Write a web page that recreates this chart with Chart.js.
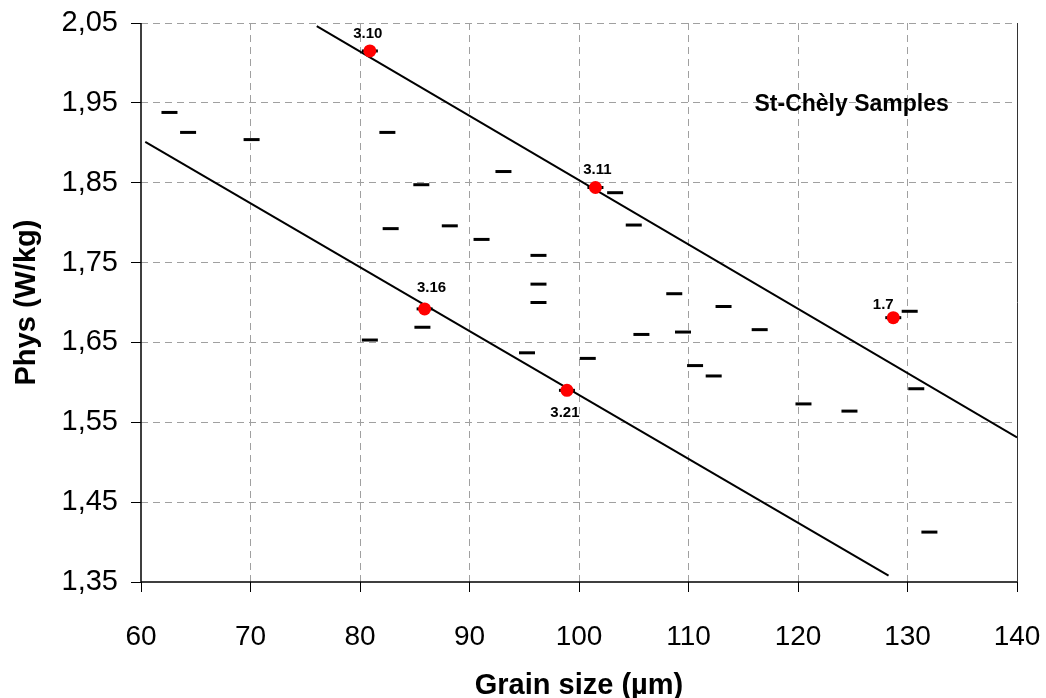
<!DOCTYPE html>
<html>
<head>
<meta charset="utf-8">
<script src="https://cdn.jsdelivr.net/npm/chart.js@4/dist/chart.umd.min.js"></script>
<style>
  html, body { margin: 0; padding: 0; background: #fff; }
  #wrap { width: 1046px; height: 698px; }
</style>
</head>
<body>
<div id="wrap"><canvas id="chart" width="1046" height="698"></canvas></div>
<script>
// all samples (short black dashes)
const grainSize = [62.6, 64.3, 70.1, 80.9, 82.5, 85.6, 88.2, 82.8, 93.1, 91.1, 96.3, 96.3, 96.3, 101.5, 103.3, 105.0, 85.9, 85.7,
  108.7, 113.2, 105.7, 109.5, 80.9, 95.25, 100.8, 98.9, 116.5, 128.7, 130.2, 112.3, 110.6, 120.5, 124.7, 130.8, 132.0];
const phys = [1.938, 1.913, 1.904, 2.015, 1.913, 1.8475, 1.796, 1.7925, 1.864, 1.779, 1.759, 1.723, 1.700, 1.844, 1.8375, 1.797, 1.692, 1.669,
  1.711, 1.695, 1.660, 1.663, 1.653, 1.637, 1.630, 1.590, 1.666, 1.681, 1.689, 1.608, 1.621, 1.573, 1.564, 1.592, 1.4125];

// labelled samples (red dots)
const sampleNames = ["3.10", "3.11", "3.16", "3.21", "1.7"];
const sampleGrain = [80.9, 101.5, 85.9, 98.9, 128.7];
const samplePhys = [2.015, 1.844, 1.692, 1.590, 1.681];

// two boundary lines
const upperLineX = [76.05, 140];
const upperLineY = [2.046, 1.531];
const lowerLineX = [60.39, 128.27];
const lowerLineY = [1.901, 1.358];

const seriesTitle = "St-Chèly Samples";
const seriesTitlePos = [124.9, 1.948];

const font = "'Liberation Sans', Arial, sans-serif";

const toPoints = (xs, ys) => xs.map((x, i) => ({ x: x, y: ys[i] }));

// label offsets in pixels from each red dot
const labelOffsets = [[-2, -17], [2, -17.5], [7, -21], [-2, 23], [-10, -13]];

// hide grid lines that sit under the solid frame
const xGridColor = (c) => (c.index === 0 || c.index === 8 ? "rgba(0,0,0,0)" : "#a0a0a0");
const yGridColor = (c) => (c.index === 0 ? "rgba(0,0,0,0)" : "#a0a0a0");

const annotations = {
  id: "annotations",
  afterDatasetsDraw(chart) {
    const { ctx, chartArea, scales } = chart;
    ctx.save();
    // frame: left and bottom black, right dark grey
    ctx.lineWidth = 1.5;
    ctx.strokeStyle = "#000";
    ctx.beginPath();
    ctx.moveTo(chartArea.left, chartArea.top);
    ctx.lineTo(chartArea.left, chartArea.bottom);
    ctx.lineTo(chartArea.right, chartArea.bottom);
    ctx.stroke();
    ctx.lineWidth = 1;
    ctx.strokeStyle = "#333";
    ctx.beginPath();
    ctx.moveTo(chartArea.right + 0.5, chartArea.top);
    ctx.lineTo(chartArea.right + 0.5, chartArea.bottom);
    ctx.stroke();

    ctx.fillStyle = "#000";
    ctx.textAlign = "center";
    ctx.textBaseline = "middle";
    ctx.font = "bold 15px " + font;
    sampleNames.forEach((name, i) => {
      const px = scales.x.getPixelForValue(sampleGrain[i]) + labelOffsets[i][0];
      const py = scales.y.getPixelForValue(samplePhys[i]) + labelOffsets[i][1];
      ctx.fillText(name, px, py);
    });
    ctx.font = "bold 23px " + font;
    ctx.fillText(seriesTitle, scales.x.getPixelForValue(seriesTitlePos[0]), scales.y.getPixelForValue(seriesTitlePos[1]));
    ctx.restore();
  }
};

new Chart(document.getElementById("chart"), {
  type: "scatter",
  plugins: [annotations],
  data: {
    datasets: [
      {
        data: toPoints(grainSize, phys),
        pointStyle: "line",
        pointRadius: 8,
        pointBorderWidth: 3,
        borderColor: "#000",
        order: 3
      },
      {
        data: toPoints(sampleGrain, samplePhys),
        pointStyle: "circle",
        pointRadius: 6.5,
        pointBorderWidth: 0,
        backgroundColor: "#ff0000",
        borderColor: "#ff0000",
        order: 1
      },
      {
        data: toPoints(upperLineX, upperLineY),
        showLine: true,
        pointRadius: 0,
        borderColor: "#000",
        borderWidth: 2,
        order: 2
      },
      {
        data: toPoints(lowerLineX, lowerLineY),
        showLine: true,
        pointRadius: 0,
        borderColor: "#000",
        borderWidth: 2,
        order: 2
      }
    ]
  },
  options: {
    responsive: false,
    animation: false,
    layout: { padding: { top: 23, right: 29, left: 0, bottom: 0 } },
    plugins: {
      legend: { display: false },
      tooltip: { enabled: false }
    },
    scales: {
      x: {
        type: "linear",
        min: 60,
        max: 140,
        afterFit: (scale) => {
          scale.height = 116;
          scale.paddingLeft = 0;
          scale.paddingRight = 0;
        },
        ticks: {
          stepSize: 10,
          color: "#000",
          padding: 28,
          font: { family: font, size: 28 }
        },
        grid: {
          color: xGridColor,
          tickColor: "#000",
          tickLength: 10,
          tickBorderDash: []
        },
        border: { display: false, dash: [7, 5] },
        title: {
          display: true,
          text: "Grain size (µm)",
          color: "#000",
          padding: 0,
          font: { family: font, size: 29, weight: "bold", lineHeight: 0.8 }
        }
      },
      y: {
        type: "linear",
        min: 1.35,
        max: 2.05,
        afterFit: (scale) => {
          scale.width = 141;
          scale.paddingTop = 0;
          scale.paddingBottom = 0;
        },
        ticks: {
          stepSize: 0.1,
          color: "#000",
          padding: 13,
          font: { family: font, size: 29 },
          callback: (v) => v.toFixed(2).replace(".", ",")
        },
        grid: {
          color: yGridColor,
          tickColor: "#000",
          tickLength: 10,
          tickBorderDash: []
        },
        border: { display: false, dash: [7, 5] },
        title: {
          display: true,
          text: "Phys (W/kg)",
          color: "#000",
          padding: { top: 10, bottom: 0 },
          font: { family: font, size: 29, weight: "bold" }
        }
      }
    }
  }
});
</script>
</body>
</html>
